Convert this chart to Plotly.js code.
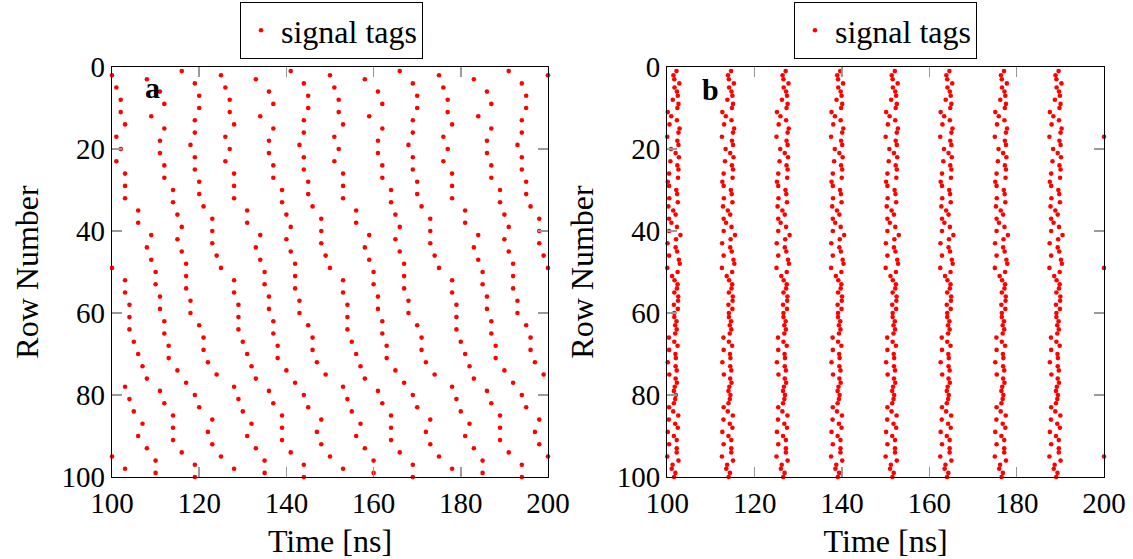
<!DOCTYPE html>
<html>
<head>
<meta charset="utf-8">
<script src="https://cdn.plot.ly/plotly-3.0.1.min.js"></script>
<style>
  html, body { margin: 0; padding: 0; background: #fff; }
  #chart { width: 1133px; height: 559px; }
</style>
</head>
<body>
<div id="chart"></div>
<script>
// Row numbers of the detector (1..100)
const rowNumbers = [
  1,2,3,4,5,6,7,8,9,10, 11,12,13,14,15,16,17,18,19,20,
  21,22,23,24,25,26,27,28,29,30, 31,32,33,34,35,36,37,38,39,40,
  41,42,43,44,45,46,47,48,49,50, 51,52,53,54,55,56,57,58,59,60,
  61,62,63,64,65,66,67,68,69,70, 71,72,73,74,75,76,77,78,79,80,
  81,82,83,84,85,86,87,88,89,90, 91,92,93,94,95,96,97,98,99,100
];

// Panel a: first tag time [ns] in each row; tags repeat every 25 ns
const firstTagA = [
  116,100,108,119,101,111,120,102,112,120,
  102,109,119,103,112,119,101,111,118,102,
  111,119,101,112,119,103,112,120,103,114,
  120,103,114,121,106,115,123,106,116,123,
  109,115,123,108,116,124,109,117,100,110,
  117,103,110,117,103,111,118,104,111,118,
  104,112,120,104,112,121,105,113,121,106,
  113,122,107,115,124,108,117,103,111,119,
  104,112,120,105,114,123,107,114,122,106,
  114,123,108,116,100,110,119,103,110,119
];
const tagPeriodA = 25;

// Panel b: first tag time [ns] in each row; tags repeat every 12.5 ns
const firstTagB = [
  102.1,101.4,101.6,102.75,101.65,102.2,102.4,101.25,102.55,102.3,
  100.1,100.9,102.2,100.5,102.8,102.55,100,102.3,102.55,100.85,
  101.9,102.65,100.7,102.3,102.55,100.4,102.45,100.1,100.4,102.05,
  102.25,100.45,102.4,100.25,101.35,101.9,100.4,100.95,102.2,100.4,
  103.0,102.0,100.05,101.9,102.25,100.4,102.65,102.85,100,102.35,
  101.1,101.65,102.35,102.2,101.6,102.5,102.45,101.5,102.4,101.6,
  101.6,102.1,101.8,102.15,101.8,100.35,101.6,102.35,100.4,101.85,
  101.95,100.1,101.9,102.15,100.45,101.9,102.2,101.7,101.5,101.95,
  101.8,101.5,100.4,101.35,102.5,100.35,101.8,102.4,100.1,101.5,
  102.15,100.4,102.15,102.15,100,102.55,101.2,101.0,101.85,101.55
];
const tagPeriodB = 12.5;

// Time window shown on both panels
const timeWindow = [100, 200];
const timeTicks = [100, 120, 140, 160, 180, 200];
const rowTicks = [0, 20, 40, 60, 80, 100];

// Expand each row's first tag into the repeated tag train inside the window
function tagTrain(firstTags, period) {
  const xs = [], ys = [];
  rowNumbers.forEach((row, i) => {
    for (let t = firstTags[i]; t <= timeWindow[1] + 1e-9; t += period) {
      if (t >= timeWindow[0] - 1e-9) { xs.push(t); ys.push(row); }
    }
  });
  return { xs, ys };
}

const a = tagTrain(firstTagA, tagPeriodA);
const b = tagTrain(firstTagB, tagPeriodB);

const markerStyle = { color: '#ff0000', size: 4.6, line: { width: 0 } };

const traces = [
  { type: 'scatter', mode: 'markers', name: 'signal tags', x: a.xs, y: a.ys,
    xaxis: 'x', yaxis: 'y', legend: 'legend', marker: markerStyle, cliponaxis: false,
    hoverinfo: 'x+y' },
  { type: 'scatter', mode: 'markers', name: 'signal tags', x: b.xs, y: b.ys,
    xaxis: 'x2', yaxis: 'y2', legend: 'legend2', marker: markerStyle, cliponaxis: false,
    hoverinfo: 'x+y' }
];

const serif = 'Liberation Serif, Times New Roman, serif';

function xAxis(domain, anchor) {
  return {
    domain: domain, anchor: anchor, range: timeWindow, tickvals: timeTicks,
    ticks: 'inside', ticklen: 10, tickwidth: 1.5, tickcolor: '#9a9a9a',
    showline: true, linecolor: '#000', linewidth: 1.3, mirror: 'allticks',
    showgrid: false, zeroline: false, automargin: false,
    tickfont: { family: serif, size: 29, color: '#000' },
    title: { text: 'Time [ns]', font: { family: serif, size: 32, color: '#000' } }
  };
}
function yAxis(anchor) {
  return {
    anchor: anchor, range: [100, 0], tickvals: rowTicks,
    ticks: 'inside', ticklen: 10, tickwidth: 1.5, tickcolor: '#9a9a9a',
    showline: true, linecolor: '#000', linewidth: 1.3, mirror: 'allticks',
    showgrid: false, zeroline: false, automargin: false,
    tickfont: { family: serif, size: 29, color: '#000' },
    title: { text: 'Row Number', font: { family: serif, size: 32, color: '#000' } }
  };
}

const legendStyle = (xc) => ({
  x: xc, y: 1.089, xanchor: 'center', yanchor: 'middle',
  bordercolor: '#000', borderwidth: 1, bgcolor: '#fff',
  font: { family: serif, size: 32, color: '#000' },
  itemwidth: 30, tracegroupgap: 0
});

const layout = {
  width: 1133, height: 559,
  margin: { l: 112, r: 29, t: 67, b: 82, pad: 0, autoexpand: false },
  paper_bgcolor: '#fff', plot_bgcolor: '#fff',
  font: { family: serif, color: '#000' },
  showlegend: true,
  xaxis: xAxis([0, 0.4395], 'y'),
  yaxis: yAxis('x'),
  xaxis2: xAxis([0.5598, 1], 'y2'),
  yaxis2: yAxis('x2'),
  legend: legendStyle(0.2213),
  legend2: legendStyle(0.7797),
  annotations: [
    { text: '<b>a</b>', xref: 'x domain', yref: 'y domain', x: 0.094, y: 0.949,
      xanchor: 'center', yanchor: 'middle', showarrow: false,
      font: { family: serif, size: 30, color: '#000' } },
    { text: '<b>b</b>', xref: 'x2 domain', yref: 'y2 domain', x: 0.098, y: 0.944,
      xanchor: 'center', yanchor: 'middle', showarrow: false,
      font: { family: serif, size: 30, color: '#000' } }
  ]
};

Plotly.newPlot('chart', traces, layout, { staticPlot: true, displayModeBar: false });
</script>
</body>
</html>
